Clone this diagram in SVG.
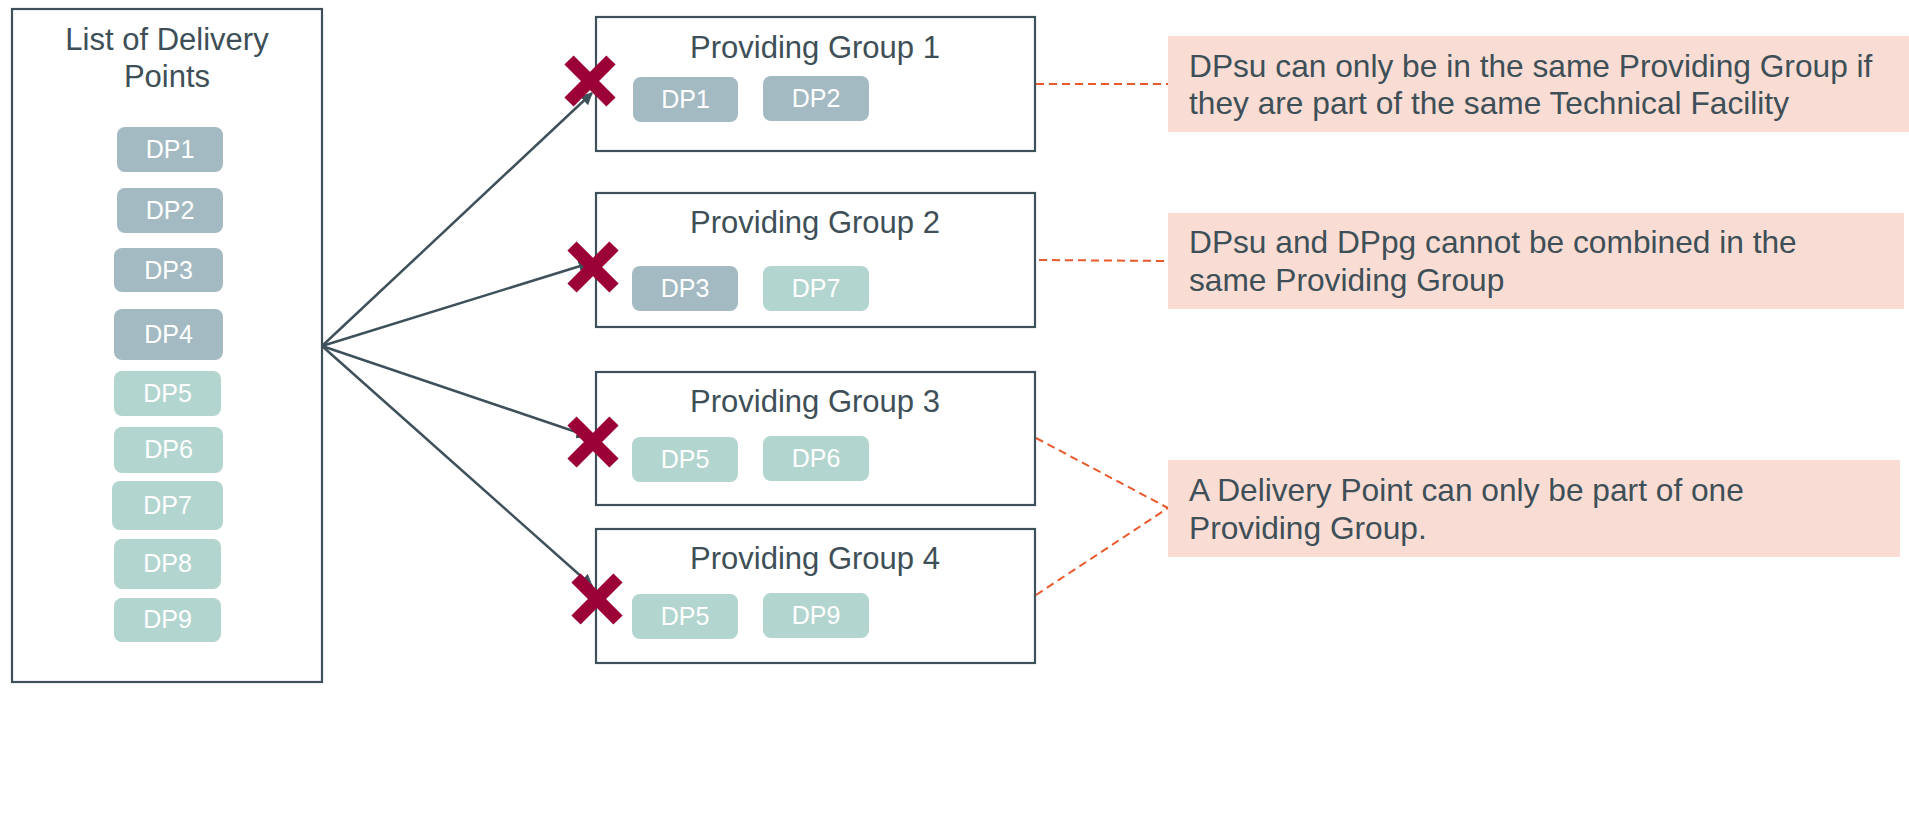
<svg xmlns="http://www.w3.org/2000/svg" width="1909" height="828" viewBox="0 0 1909 828">
<style>
.box{fill:#fff;stroke:#3E515A;stroke-width:2.2}
.ttl{font-family:"Liberation Sans",Arial,sans-serif;font-size:31px;fill:#3E4F57;text-anchor:middle}
.dpd{fill:#A3BAC2}
.dpl{fill:#B3D5CF}
.dpt{font-family:"Liberation Sans",Arial,sans-serif;font-size:25px;fill:#fff;text-anchor:middle}
.note{fill:#F9DDD4}
.nt{font-family:"Liberation Sans",Arial,sans-serif;font-size:31.7px;fill:#3E4F57}
.con{stroke:#3E515A;stroke-width:2.5;fill:none}
.dash{stroke:#E9592C;stroke-width:2;stroke-dasharray:8 5;fill:none}
.x{stroke:#9B0036;stroke-width:13;stroke-linecap:butt}
</style>
<defs>
<marker id="ah" viewBox="0 0 10 10" refX="9" refY="5" markerWidth="5" markerHeight="5" orient="auto" markerUnits="strokeWidth">
<path d="M0,0 L10,5 L0,10 z" fill="#3E515A"/>
</marker>
</defs>
<rect width="1909" height="828" fill="#fff"/>

<g id="connectors">
<line class="con" x1="322" y1="346" x2="592" y2="93" marker-end="url(#ah)"/>
<line class="con" x1="322" y1="346" x2="590" y2="263" marker-end="url(#ah)"/>
<line class="con" x1="322" y1="346" x2="588" y2="436" marker-end="url(#ah)"/>
<line class="con" x1="322" y1="346" x2="592" y2="586" marker-end="url(#ah)"/>
<line class="dash" x1="1036" y1="84" x2="1168" y2="84"/>
<line class="dash" x1="1039" y1="260" x2="1168" y2="261"/>
<line class="dash" x1="1036" y1="438" x2="1168" y2="508"/>
<line class="dash" x1="1036" y1="595" x2="1168" y2="508"/>
</g>

<g id="list">
<rect class="box" x="12" y="9" width="310" height="673"/>
<text class="ttl" x="167" y="50">List of Delivery</text>
<text class="ttl" x="167" y="87">Points</text>
<rect class="dpd" x="117" y="127" width="106" height="45" rx="8"/><text class="dpt" x="170" y="158">DP1</text>
<rect class="dpd" x="117" y="188" width="106" height="45" rx="8"/><text class="dpt" x="170" y="219">DP2</text>
<rect class="dpd" x="114" y="248" width="109" height="44" rx="8"/><text class="dpt" x="168.5" y="279">DP3</text>
<rect class="dpd" x="114" y="309" width="109" height="51" rx="8"/><text class="dpt" x="168.5" y="343">DP4</text>
<rect class="dpl" x="114" y="371" width="107" height="45" rx="8"/><text class="dpt" x="167.5" y="402">DP5</text>
<rect class="dpl" x="114" y="427" width="109" height="46" rx="8"/><text class="dpt" x="168.5" y="458">DP6</text>
<rect class="dpl" x="112" y="481" width="111" height="49" rx="8"/><text class="dpt" x="167.5" y="514">DP7</text>
<rect class="dpl" x="114" y="539" width="107" height="50" rx="8"/><text class="dpt" x="167.5" y="572">DP8</text>
<rect class="dpl" x="114" y="598" width="107" height="44" rx="8"/><text class="dpt" x="167.5" y="628">DP9</text>
</g>

<g id="pg1">
<rect class="box" x="596" y="17" width="439" height="134"/>
<text class="ttl" x="815" y="58">Providing Group 1</text>
<rect class="dpd" x="633" y="77" width="105" height="45" rx="8"/><text class="dpt" x="685.5" y="108">DP1</text>
<rect class="dpd" x="763" y="76" width="106" height="45" rx="8"/><text class="dpt" x="816" y="107">DP2</text>
</g>
<g id="pg2">
<rect class="box" x="596" y="193" width="439" height="134"/>
<text class="ttl" x="815" y="233">Providing Group 2</text>
<rect class="dpd" x="632" y="266" width="106" height="45" rx="8"/><text class="dpt" x="685" y="297">DP3</text>
<rect class="dpl" x="763" y="266" width="106" height="45" rx="8"/><text class="dpt" x="816" y="297">DP7</text>
</g>
<g id="pg3">
<rect class="box" x="596" y="372" width="439" height="133"/>
<text class="ttl" x="815" y="412">Providing Group 3</text>
<rect class="dpl" x="632" y="437" width="106" height="45" rx="8"/><text class="dpt" x="685" y="468">DP5</text>
<rect class="dpl" x="763" y="436" width="106" height="45" rx="8"/><text class="dpt" x="816" y="467">DP6</text>
</g>
<g id="pg4">
<rect class="box" x="596" y="529" width="439" height="134"/>
<text class="ttl" x="815" y="569">Providing Group 4</text>
<rect class="dpl" x="632" y="594" width="106" height="45" rx="8"/><text class="dpt" x="685" y="625">DP5</text>
<rect class="dpl" x="763" y="593" width="106" height="45" rx="8"/><text class="dpt" x="816" y="624">DP9</text>
</g>

<g id="crosses">
<path class="x" d="M569,60 L611,102 M611,60 L569,102"/>
<path class="x" d="M572,246 L614,288 M614,246 L572,288"/>
<path class="x" d="M572,421 L614,463 M614,421 L572,463"/>
<path class="x" d="M576,578 L618,620 M618,578 L576,620"/>
</g>

<g id="note1">
<rect class="note" x="1168" y="36" width="741" height="96"/>
<text class="nt" x="1189" y="77">DPsu can only be in the same Providing Group if</text>
<text class="nt" x="1189" y="114">they are part of the same Technical Facility</text>
</g>
<g id="note2">
<rect class="note" x="1168" y="213" width="736" height="96"/>
<text class="nt" x="1189" y="253">DPsu and DPpg cannot be combined in the</text>
<text class="nt" x="1189" y="291">same Providing Group</text>
</g>
<g id="note3">
<rect class="note" x="1168" y="460" width="732" height="97"/>
<text class="nt" x="1189" y="501">A Delivery Point can only be part of one</text>
<text class="nt" x="1189" y="539">Providing Group.</text>
</g>
</svg>
